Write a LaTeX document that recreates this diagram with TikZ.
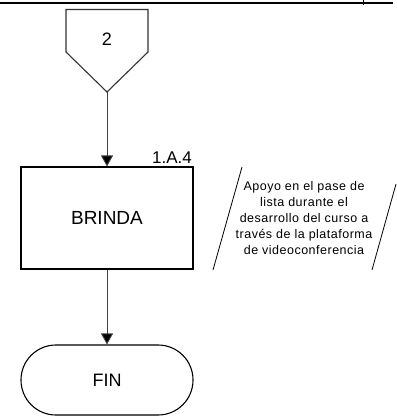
\documentclass[tikz,border=0pt]{standalone}
\usepackage{fontspec}
\setmainfont{Liberation Sans}
\usetikzlibrary{arrows.meta}
\begin{document}
\begin{tikzpicture}[x=1pt,y=-1pt,
  shapeline/.style={draw=black,line width=1.1pt},
  conn/.style={draw=black!75,line width=0.9pt,-{Triangle[length=11pt,width=12pt,fill=black]}},
  procbox/.style={shapeline,minimum width=172pt,minimum height=102pt,inner sep=0pt,font=\fontsize{19}{21}\selectfont},
  termbox/.style={shapeline,rounded corners=34.9pt,minimum width=172pt,minimum height=70pt,inner sep=0pt,font=\fontsize{18}{20}\selectfont},
  note/.style={align=center,inner sep=0pt,font=\fontsize{12.5}{16}\selectfont\addfontfeature{LetterSpace=4}}]
\useasboundingbox (0,0) rectangle (396,417);
% top rule
\draw[line width=2.2pt] (0,3) -- (393,3);
\draw[line width=1pt] (363,0) -- (363,5);
% off-page connector
\draw[shapeline,draw=black!80] (66,9.5) -- (148,9.5) -- (148,52) -- (107,92) -- (66,52) -- cycle;
\coordinate (ptip) at (107,92);
\node[font=\fontsize{18}{20}\selectfont] (two) at (107,39) {2};
% process box
\node[procbox] (brinda) at (107,218) {BRINDA};
\node[anchor=base east,font=\fontsize{17}{20}\selectfont,inner sep=0pt] (code) at (192,163) {1.A.4};
% terminal
\node[termbox] (fin) at (107,380) {FIN};
% connectors
\draw[conn] (ptip) -- (brinda.north);
\draw[conn] (brinda.south) -- (fin.north);
% annotation
\coordinate (nl1) at (242,167);
\coordinate (nl2) at (213,270);
\coordinate (nr1) at (396,184);
\coordinate (nr2) at (372,270);
\draw[line width=0.8pt] (nl1) -- (nl2);
\draw[line width=0.8pt] (nr1) -- (nr2);
\node[note] (txt) at (304,218) {Apoyo en el pase de\\lista durante el\\desarrollo del curso a\\través de la plataforma\\de videoconferencia};
\end{tikzpicture}
\end{document}
